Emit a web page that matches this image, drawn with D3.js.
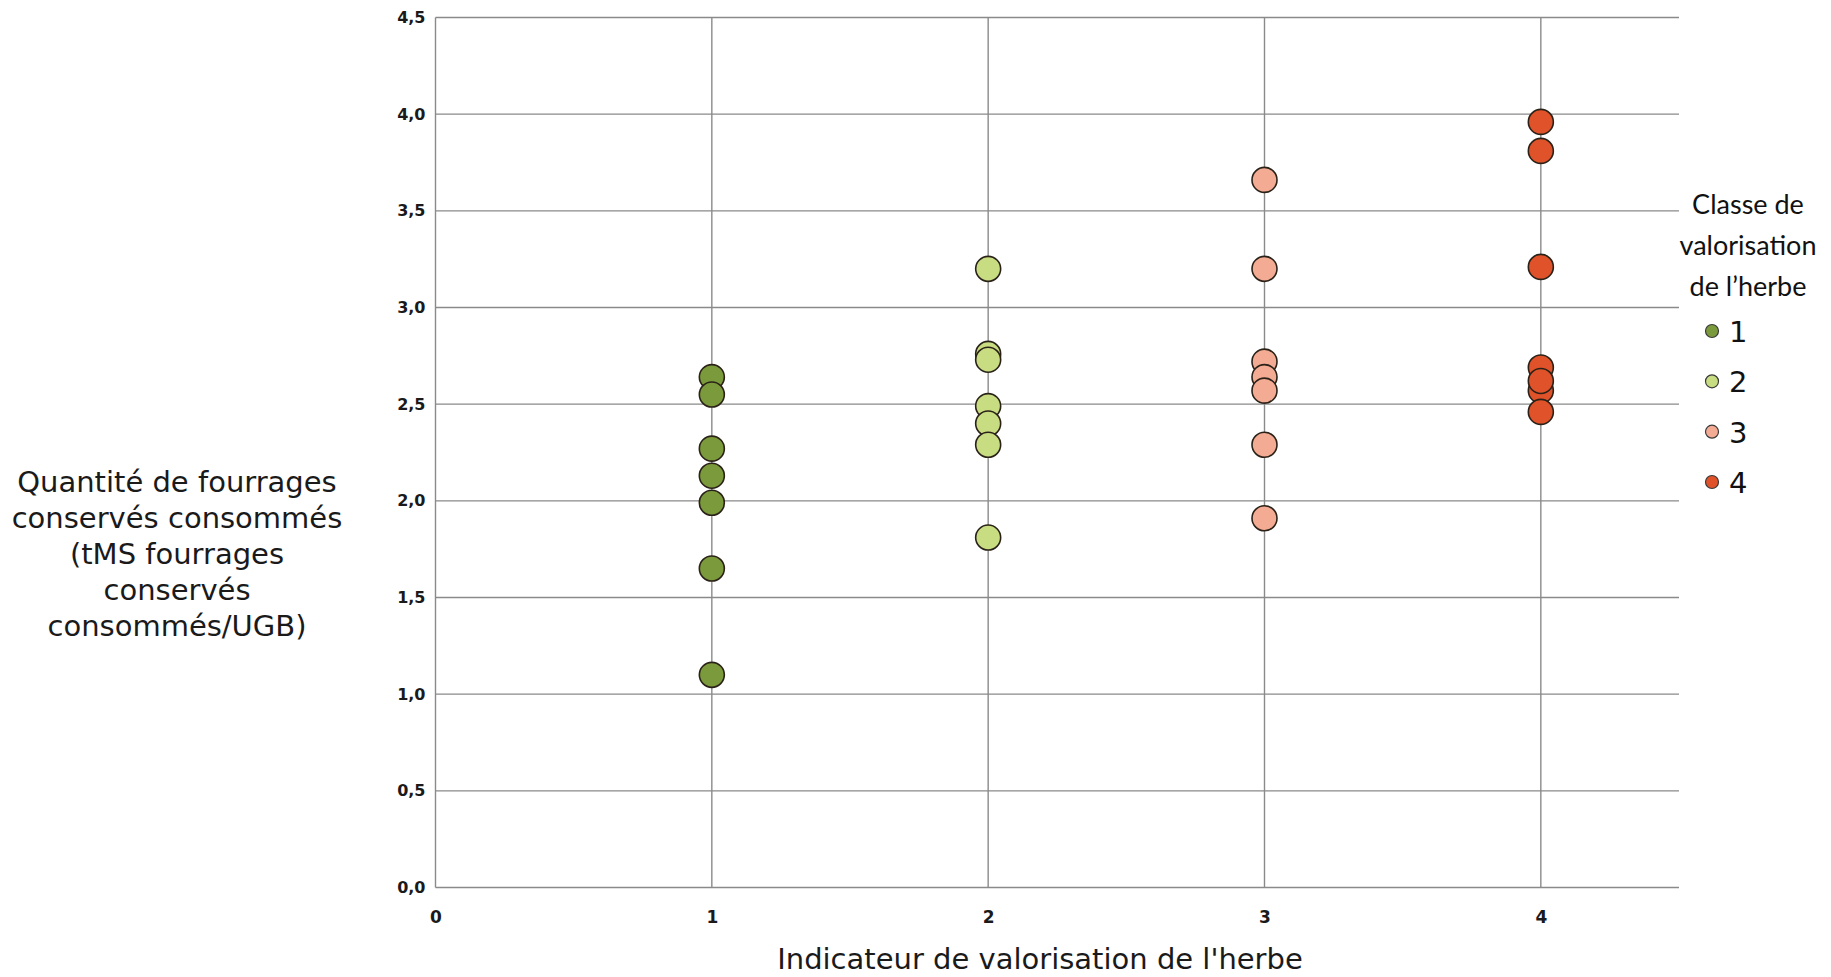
<!DOCTYPE html>
<html>
<head>
<meta charset="utf-8">
<script src="https://cdn.jsdelivr.net/npm/d3@7"></script>
<style>
  html, body { margin: 0; padding: 0; background: #ffffff; }
  svg { display: block; }
</style>
</head>
<body>
<svg id="chart" width="1831" height="977"></svg>
<script>
// ---------- data ----------
const classes = ["1", "2", "3", "4"];
const classColors = ["#7B9A3B", "#C8DC82", "#F4AB93", "#E05229"];
const indicatorX = [1, 2, 3, 4];
const class1Values = [2.64, 2.55, 2.27, 2.13, 1.99, 1.65, 1.10];
const class2Values = [3.20, 2.76, 2.73, 2.49, 2.40, 2.29, 1.81];
const class3Values = [3.66, 3.20, 2.72, 2.64, 2.57, 2.29, 1.91];
const class4Values = [3.96, 3.81, 3.21, 2.69, 2.57, 2.46, 2.62];
const yTickValues = [0, 0.5, 1, 1.5, 2, 2.5, 3, 3.5, 4, 4.5];
const yTickLabels = ["0,0", "0,5", "1,0", "1,5", "2,0", "2,5", "3,0", "3,5", "4,0", "4,5"];
const xTickValues = [0, 1, 2, 3, 4];
const xTickLabels = ["0", "1", "2", "3", "4"];
const xTitle = "Indicateur de valorisation de l'herbe";
const yTitleLines = ["Quantité de fourrages", "conservés consommés", "(tMS fourrages", "conservés", "consommés/UGB)"];
const legendTitleLines = ["Classe de", "valorisation", "de l\u2019herbe"];

const seriesValues = [class1Values, class2Values, class3Values, class4Values];

// ---------- layout ----------
const svg = d3.select("#chart");
const plotLeft = 435.5, plotRight = 1679, plotTop = 17.5, plotBottom = 887.5;

const x = d3.scaleLinear().domain([0, 4.5]).range([plotLeft, plotRight]);
const y = d3.scaleLinear().domain([0, 4.5]).range([plotBottom, plotTop]);

const gridColor = "#8a8a8a";

// horizontal gridlines
svg.append("g").selectAll("line")
  .data(yTickValues).join("line")
  .attr("x1", plotLeft).attr("x2", plotRight)
  .attr("y1", d => y(d)).attr("y2", d => y(d))
  .attr("stroke", gridColor).attr("stroke-width", 1.4);

// vertical gridlines
svg.append("g").selectAll("line")
  .data(xTickValues).join("line")
  .attr("x1", d => x(d)).attr("x2", d => x(d))
  .attr("y1", plotTop).attr("y2", plotBottom)
  .attr("stroke", gridColor).attr("stroke-width", 1.4);

// y axis labels
const yAxis = d3.axisLeft(y).tickValues(yTickValues)
  .tickFormat((d, i) => yTickLabels[i]).tickSize(0).tickPadding(10);
const gy = svg.append("g").attr("transform", `translate(${plotLeft},0)`).call(yAxis);
gy.select(".domain").remove();
gy.selectAll("text")
  .attr("font-family", "DejaVu Sans, Verdana, sans-serif")
  .attr("font-weight", "bold").attr("font-size", 16).attr("fill", "#1a1a1a");

// x axis labels
const xAxis = d3.axisBottom(x).tickValues(xTickValues)
  .tickFormat((d, i) => xTickLabels[i]).tickSize(0).tickPadding(23);
const gx = svg.append("g").attr("transform", `translate(0,${plotBottom})`).call(xAxis);
gx.select(".domain").remove();
gx.selectAll("text")
  .attr("font-family", "DejaVu Sans, Verdana, sans-serif")
  .attr("font-weight", "bold").attr("font-size", 17).attr("fill", "#1a1a1a");

// points
seriesValues.forEach((vals, ci) => {
  svg.append("g").selectAll("circle")
    .data(vals).join("circle")
    .attr("cx", x(indicatorX[ci]))
    .attr("cy", d => y(d))
    .attr("r", 12.5)
    .attr("fill", classColors[ci])
    .attr("stroke", "#2a2218")
    .attr("stroke-width", 1.6);
});

// x title
svg.append("text")
  .attr("x", 1040).attr("y", 969)
  .attr("text-anchor", "middle")
  .attr("font-family", "DejaVu Sans, Verdana, sans-serif")
  .attr("font-size", 29).attr("fill", "#1a1a1a")
  .text(xTitle);

// y title
svg.append("g").selectAll("text")
  .data(yTitleLines).join("text")
  .attr("x", 177).attr("y", (d, i) => 492 + i * 36)
  .attr("text-anchor", "middle")
  .attr("font-family", "DejaVu Sans, Verdana, sans-serif")
  .attr("font-size", 29).attr("fill", "#1a1a1a")
  .text(d => d);

// legend title
svg.append("g").selectAll("text")
  .data(legendTitleLines).join("text")
  .attr("x", 1748).attr("y", (d, i) => 214 + i * 41)
  .attr("text-anchor", "middle")
  .attr("font-family", "Lato, sans-serif")
  .attr("font-size", 27).attr("fill", "#111")
  .text(d => d);

// legend items
const legendY = d3.scalePoint().domain(classes).range([331, 482]);
const lg = svg.append("g").selectAll("g")
  .data(classes).join("g")
  .attr("transform", d => `translate(1712,${legendY(d)})`);
lg.append("circle")
  .attr("r", 6.5)
  .attr("fill", (d, i) => classColors[i])
  .attr("stroke", "#3a3a3a").attr("stroke-width", 1.2);
lg.append("text")
  .attr("x", 17).attr("y", 11)
  .attr("font-family", "DejaVu Sans, Verdana, sans-serif")
  .attr("font-size", 29).attr("fill", "#111")
  .text(d => d);
</script>
</body>
</html>
